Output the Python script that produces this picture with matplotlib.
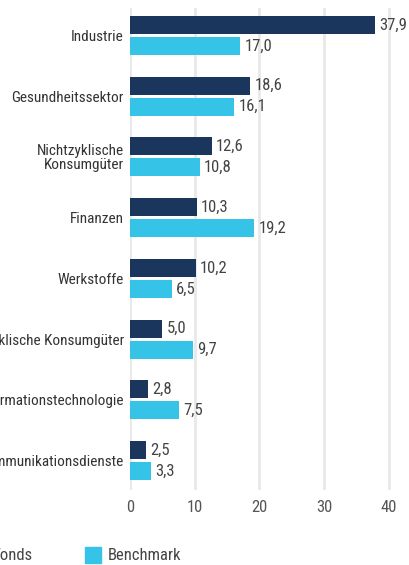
import matplotlib
matplotlib.use("Agg")
import matplotlib.pyplot as plt
from matplotlib import font_manager
from matplotlib.patches import Rectangle

categories = ["Industrie", "Gesundheitssektor", "Nichtzyklische\nKonsumgüter", "Finanzen",
              "Werkstoffe", "Zyklische Konsumgüter", "Informationstechnologie",
              "Kommunikationsdienste"]
fonds = [37.9, 18.6, 12.6, 10.3, 10.2, 5.0, 2.8, 2.5]
benchmark = [17.0, 16.1, 10.8, 19.2, 6.5, 9.7, 7.5, 3.3]
xticks = [0, 10, 20, 30, 40]
series_names = ["Fonds", "Benchmark"]

names = {f.name for f in font_manager.fontManager.ttflist}
fam = None
for cand in ["Roboto Condensed", "Liberation Sans Narrow", "Open Sans Condensed", "DejaVu Sans"]:
    if cand in names:
        fam = cand
        break
plt.rcParams['font.family'] = [fam, 'DejaVu Sans']
if fam == "DejaVu Sans":
    plt.rcParams['font.stretch'] = 'condensed'

DARK = "#1b365d"
CYAN = "#35c3e8"
GRID = "#e8e8e8"
TXT = "#333333"

W, H = 409, 565
fig = plt.figure(figsize=(W / 100, H / 100), dpi=100)
ax = fig.add_axes([130 / W, 1 - 490 / H, 278.4 / W, 482 / H])

n = len(categories)
pos = list(range(n))
bh = 0.297
off = 0.173
ax.barh([p - off for p in pos], fonds, height=bh, color=DARK, zorder=3)
ax.barh([p + off for p in pos], benchmark, height=bh, color=CYAN, zorder=3)

fs = 12
cfs = 11
for p, v in zip(pos, fonds):
    ax.text(v + 0.65, p - off, f"{v:.1f}".replace(".", ","), va="center", ha="left",
            fontsize=fs, color="#444444")
for p, v in zip(pos, benchmark):
    ax.text(v + 0.65, p + off, f"{v:.1f}".replace(".", ","), va="center", ha="left",
            fontsize=fs, color="#444444")

ax.set_xlim(0, 43)
ax.set_ylim(7.486, -0.453)
ax.set_xticks(xticks)
ax.set_xticklabels([str(t) for t in xticks], fontsize=fs, color="#555555")
ax.set_yticks(pos)
ax.set_yticklabels(categories, fontsize=cfs, color=TXT, linespacing=0.95)
ax.tick_params(axis="both", length=0)
ax.tick_params(axis="y", pad=4.5)
ax.tick_params(axis="x", pad=7)
for s in ax.spines.values():
    s.set_visible(False)
for t in xticks:
    ax.axvline(t, color=GRID, lw=2.0, zorder=1)

# legend
sq = 16
items = [(-30, series_names[0], DARK), (85, series_names[1], CYAN)]
for x0, lab, col in items:
    fig.patches.append(Rectangle((x0 / W, 1 - 563 / H), sq / W, sq / H,
                                 transform=fig.transFigure, color=col, clip_on=False))
    fig.text((x0 + 23) / W, 1 - 555 / H, lab, fontsize=fs, color="#444444",
             va="center", ha="left")

fig.savefig("out.png", dpi=100)
